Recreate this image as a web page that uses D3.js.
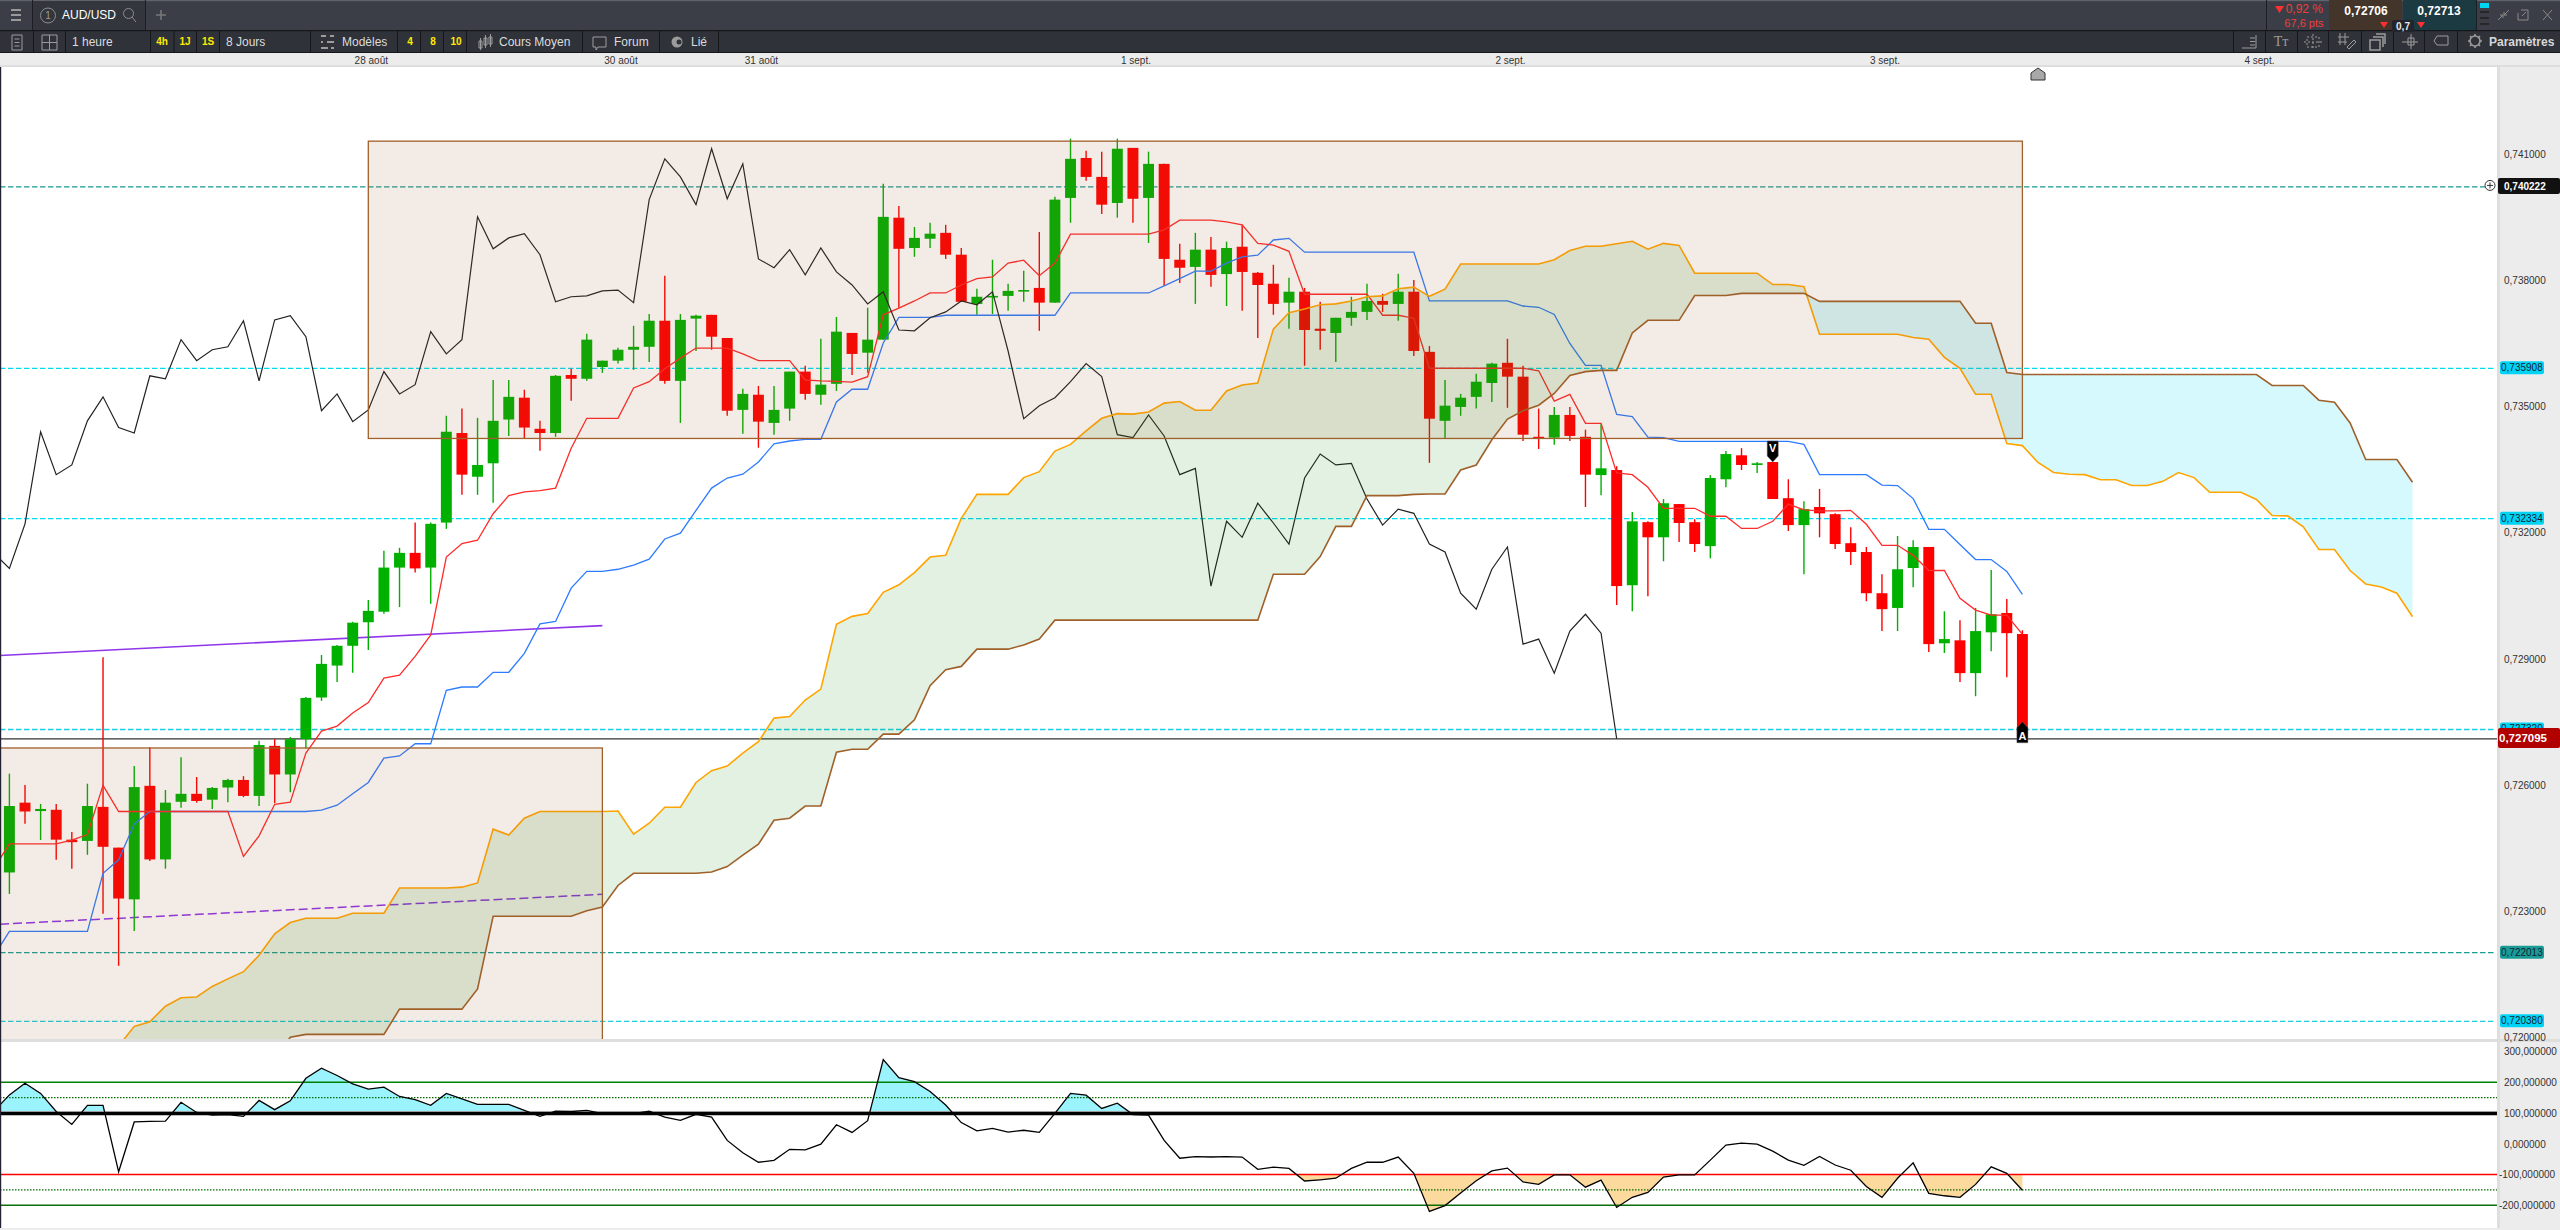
<!DOCTYPE html>
<html>
<head>
<meta charset="utf-8">
<title>AUD/USD</title>
<script src="https://cdnjs.cloudflare.com/ajax/libs/d3/7.8.5/d3.min.js"></script>
<style>
html, body { margin: 0; padding: 0; background: #fff; overflow: hidden; }
svg { display: block; font-family: "Liberation Sans", Arial, sans-serif; }
</style>
</head>
<body>
<svg id="chart" width="2560" height="1230"></svg>
<script>
// prices are in 1e-5 units (73590 = 0,73590)
var opens = [72392,72558,72538,72541,72470,72467,72548,72451,72328,72598,72423,72560,72579,72565,72594,72612,72574,72693,72625,72709,72808,72884,72931,72987,73012,73117,73152,73117,73224,73437,73333,73365,73469,73521,73447,73437,73575,73566,73594,73609,73635,73642,73704,73561,73709,73718,73663,73492,73528,73461,73495,73583,73528,73554,73675,73628,73659,73949,73877,73899,73913,73861,73744,73762,73763,73774,73782,73747,73996,74091,74046,73984,74115,73996,74077,73849,73832,73873,73815,73880,73818,73792,73747,73773,73685,73675,73711,73725,73751,73744,73773,73630,73466,73499,73523,73556,73604,73571,73428,73426,73480,73428,73337,73349,73075,73225,73189,73268,73225,73168,73327,73384,73361,73368,73282,73218,73261,73244,73175,73154,73056,73021,73116,73166,72937,72944,72866,72963,73009,72959];
var highs = [72627,72600,72555,72555,72488,72603,72904,72451,72645,72690,72588,72666,72619,72595,72615,72621,72705,72709,72714,72809,72909,72933,72988,73040,73157,73164,73224,73224,73478,73495,73473,73563,73563,73540,73466,73575,73590,73673,73609,73640,73692,73720,73811,73720,73718,73718,73663,73542,73549,73549,73583,73597,73661,73713,73675,73735,74030,73977,73927,73937,73932,73877,73780,73849,73792,73823,73915,73999,74137,74108,74106,74137,74115,74106,74077,73887,73913,73903,73892,73932,73820,73837,73806,73782,73749,73711,73761,73792,73768,73816,73801,73644,73563,73530,73578,73604,73661,73597,73495,73499,73499,73445,73458,73358,73249,73227,73280,73268,73232,73337,73394,73401,73368,73368,73327,73275,73304,73246,73213,73166,73101,73192,73182,73166,73013,72992,73021,73111,73042,72968];
var lows = [72341,72508,72469,72422,72401,72434,72294,72170,72253,72419,72401,72546,72558,72543,72559,72571,72550,72557,72583,72687,72800,72845,72867,72921,73007,73023,73105,73031,73209,73290,73290,73271,73430,73425,73395,73428,73514,73561,73580,73602,73587,73606,73554,73461,73632,73635,73478,73435,73402,73433,73466,73516,73504,73537,73575,73580,73659,73735,73856,73877,73851,73749,73718,73720,73728,73749,73680,73747,73937,74037,73958,73949,73937,73889,73787,73794,73744,73785,73739,73728,73663,73718,73685,73597,73635,73606,73692,73706,73725,73704,73620,73366,73425,73478,73495,73511,73497,73418,73399,73409,73418,73261,73289,73028,73013,73049,73132,73178,73154,73139,73308,73349,73342,73280,73204,73101,73189,73161,73123,73037,72966,72966,73070,72916,72914,72845,72811,72918,72856,72710];
var closes = [72550,72537,72543,72470,72464,72550,72453,72330,72595,72423,72558,72579,72562,72593,72612,72574,72695,72625,72709,72807,72888,72931,72986,73014,73117,73152,73115,73221,73440,73338,73361,73466,73523,73450,73437,73573,73566,73659,73609,73635,73642,73704,73561,73706,73716,73666,73490,73530,73464,73492,73583,73530,73552,73678,73625,73659,73951,73875,73901,73911,73861,73749,73761,73763,73775,73777,73747,73992,74089,74046,73980,74113,73994,74077,73851,73830,73873,73813,73877,73820,73789,73744,73773,73682,73680,73711,73725,73751,73742,73773,73632,73471,73502,73521,73559,73602,73571,73433,73426,73480,73430,73338,73353,73073,73227,73189,73270,73223,73173,73330,73387,73361,73365,73280,73218,73256,73246,73173,73154,73056,73018,73113,73166,72935,72947,72866,72966,73006,72961,72710];

// ichimoku lines, first value of each sits at the "Start" candle index
var tenkanStart = -1;
var tenkan = [72401,72460,72460,72460,72460,72469,72482,72599,72537,72537,72537,72537,72537,72537,72537,72537,72430,72479,72554,72559,72676,72728,72740,72771,72796,72854,72861,72906,72957,73142,73174,73182,73245,73288,73297,73300,73306,73401,73472,73472,73472,73544,73559,73590,73615,73639,73639,73639,73625,73609,73609,73609,73563,73561,73560,73558,73571,73718,73734,73751,73770,73770,73789,73804,73808,73841,73848,73811,73841,73910,73910,73910,73910,73910,73910,73920,73943,73943,73943,73939,73932,73888,73884,73869,73767,73767,73767,73767,73767,73717,73717,73710,73591,73591,73591,73591,73591,73591,73591,73585,73513,73529,73460,73460,73342,73338,73308,73258,73258,73258,73239,73239,73210,73210,73227,73268,73254,73252,73252,73253,73220,73170,73170,73146,73110,73110,73044,73016,73004,73004,72958];
var kijunStart = -1;
var kijun = [72193,72252,72252,72252,72252,72252,72252,72390,72422,72507,72537,72537,72537,72537,72537,72537,72537,72537,72537,72537,72537,72540,72552,72579,72606,72664,72669,72698,72698,72825,72833,72833,72868,72868,72913,72983,72989,73068,73108,73108,73113,73123,73137,73185,73199,73253,73306,73330,73339,73368,73411,73418,73422,73422,73511,73541,73541,73651,73712,73712,73712,73717,73717,73717,73717,73717,73717,73717,73717,73770,73770,73770,73770,73770,73770,73787,73804,73822,73822,73841,73856,73860,73896,73900,73867,73867,73867,73867,73867,73867,73867,73867,73751,73751,73751,73751,73751,73751,73739,73736,73719,73650,73598,73598,73481,73476,73427,73426,73417,73417,73417,73417,73417,73417,73417,73417,73410,73338,73338,73338,73338,73313,73312,73281,73208,73208,73172,73136,73136,73108,73053];
var chikouStart = -1;
var chikou = [73152,73115,73221,73440,73338,73361,73466,73523,73450,73437,73573,73566,73659,73609,73635,73642,73704,73561,73706,73716,73666,73490,73530,73464,73492,73583,73530,73552,73678,73625,73659,73951,73875,73901,73911,73861,73749,73761,73763,73775,73777,73747,73992,74089,74046,73980,74113,73994,74077,73851,73830,73873,73813,73877,73820,73789,73744,73773,73682,73680,73711,73725,73751,73742,73773,73632,73471,73502,73521,73559,73602,73571,73433,73426,73480,73430,73338,73353,73073,73227,73189,73270,73223,73173,73330,73387,73361,73365,73280,73218,73256,73246,73173,73154,73056,73018,73113,73166,72935,72947,72866,72966,73006,72961,72710];
var spanStart = 7;
var spanA = [71979,72026,72037,72074,72094,72096,72121,72139,72156,72195,72246,72273,72283,72283,72283,72295,72295,72295,72355,72355,72355,72355,72357,72367,72495,72481,72521,72537,72537,72537,72537,72537,72538,72483,72509,72547,72547,72606,72634,72645,72676,72703,72759,72763,72802,72828,72982,73001,73008,73058,73076,73105,73142,73146,73234,73291,73291,73291,73331,73345,73394,73410,73442,73472,73483,73482,73487,73508,73512,73491,73491,73537,73551,73556,73684,73723,73732,73742,73744,73751,73761,73763,73780,73784,73762,73779,73839,73839,73839,73839,73839,73839,73849,73871,73881,73881,73887,73893,73874,73888,73883,73817,73817,73817,73817,73817,73790,73790,73785,73672,73672,73672,73672,73672,73672,73664,73660,73617,73591,73529,73529,73412,73407,73367,73343,73339,73338,73326,73326,73312,73312,73322,73343,73331,73296,73296,73296,73279,73241,73240,73214,73160,73160,73110,73078,73071,73056,73000];
var spanB = [71950,71950,71950,71950,71950,71950,71950,71950,71950,71950,71950,72000,72007,72007,72007,72007,72007,72007,72067,72067,72067,72067,72067,72115,72288,72288,72288,72288,72288,72288,72301,72310,72361,72390,72390,72390,72390,72390,72393,72406,72433,72459,72516,72521,72550,72550,72678,72685,72685,72721,72721,72755,72836,72874,72882,72923,72923,72923,72933,72947,72992,72992,72992,72992,72992,72992,72992,72992,72992,72992,72992,72992,72992,72992,73101,73101,73101,73143,73215,73215,73288,73288,73288,73291,73292,73292,73349,73361,73421,73470,73490,73503,73531,73574,73583,73586,73586,73675,73705,73705,73705,73764,73764,73764,73769,73769,73769,73769,73769,73750,73750,73750,73750,73750,73750,73750,73750,73750,73750,73698,73698,73581,73576,73576,73576,73576,73576,73576,73576,73576,73576,73576,73576,73576,73576,73576,73576,73576,73550,73550,73550,73515,73510,73461,73374,73374,73374,73320];

// indicator pane (first value at candle -1)
var cciStart = -1;
var cci = [105,159,197,164,105,63,125,125,-91,71,73,74,135,102,93,95,89,141,111,140,213,246,222,195,178,184,154,144,125,164,146,128,128,128,109,89,106,105,109,98,98,98,106,87,76,96,87,11,-29,-60,-54,-18,-20,-1,62,37,75,274,215,202,170,126,69,42,50,38,44,37,99,164,158,115,132,95,93,11,-47,-42,-43,-42,-43,-83,-76,-80,-121,-117,-112,-80,-60,-60,-43,-96,-220,-201,-160,-120,-88,-79,-124,-132,-101,-101,-141,-118,-207,-174,-158,-108,-101,-101,-53,-4,2,-1,-24,-53,-70,-41,-69,-86,-139,-174,-112,-62,-161,-169,-174,-132,-75,-96,-151];

var priceTicks = [72000,72300,72600,72900,73200,73500,73800,74100];
var cciTicks = [300,200,100,0,-100,-200];
var levelPrices = [74022.2,73590.8,73233.4,72732,72201.3,72038];
var levelColors = ["#1a9c96","#00dcf5","#00dcf5","#1ccde6","#1a9c96","#1ccde6"];
var lastPrice = 72709.5;
var dateIndex = [23,39,48,72,96,120,144];
var dateLabels = ["28 août","30 août","31 août","1 sept.","2 sept.","3 sept.","4 sept."];
var boxStart = [23,-2], boxEnd = [129,38], boxLow = [73424,71900], boxHigh = [74131,72688];
var trendStart = [-0.6,38], trendLow = [72908,72979], trendLowDash = [72269,72340];

var svg = d3.select("#chart");
var paneRight = 2497;

var x = d3.scaleLinear().domain([0,129]).range([9.4,2022.4]);
var y = d3.scaleLinear().domain([72000,74100]).range([1037.3,154.2]);
var yCci = d3.scaleLinear().domain([-200,200]).range([1205.3,1082.3]);
var fmtPrice = function(v) { return (v/100000).toFixed(6).replace(".",","); };
var fmtCci = function(v) { return v.toFixed(6).replace(".",","); };

var defs = svg.append("defs");
defs.append("clipPath").attr("id","pricePane").append("rect").attr("x",0).attr("y",67).attr("width",paneRight).attr("height",972);
defs.append("clipPath").attr("id","cciPane").append("rect").attr("x",0).attr("y",1042).attr("width",paneRight).attr("height",186);
defs.append("clipPath").attr("id","cciAbove").append("rect").attr("x",0).attr("y",1042).attr("width",paneRight).attr("height",yCci(98)-1042);
defs.append("clipPath").attr("id","cciBelow").append("rect").attr("x",0).attr("y",yCci(-100)).attr("width",paneRight).attr("height",1228-yCci(-100));

function series(values, start) {
    return values.map(function(v, i) { return {i: i + start, v: v}; });
}
var priceLine = d3.line().x(function(d) { return x(d.i); }).y(function(d) { return y(d.v); });

// ---- price pane
var price = svg.append("g").attr("clip-path","url(#pricePane)");

price.selectAll("line.level").data(levelPrices).enter().append("line")
    .attr("class","level")
    .attr("x1",0).attr("x2",2494)
    .attr("y1",function(d) { return y(d); }).attr("y2",function(d) { return y(d); })
    .attr("stroke",function(d,i) { return levelColors[i]; })
    .attr("stroke-width",1.3)
    .attr("stroke-dasharray","5.5,2.5");

price.append("line").attr("x1",0).attr("x2",paneRight)
    .attr("y1",y(lastPrice)).attr("y2",y(lastPrice))
    .attr("stroke","#333").attr("stroke-width",1.3);

// trend lines
price.append("line").attr("x1",x(trendStart[0])).attr("x2",x(trendStart[1]))
    .attr("y1",y(trendLow[0])).attr("y2",y(trendLow[1]))
    .attr("stroke","#8f35ea").attr("stroke-width",1.6);
price.append("line").attr("x1",x(trendStart[0])).attr("x2",x(trendStart[1]))
    .attr("y1",y(trendLowDash[0])).attr("y2",y(trendLowDash[1]))
    .attr("stroke","#8f35ea").attr("stroke-width",1.5).attr("stroke-dasharray","9,4");

// candles
var candleW = (x(1)-x(0))*0.7;
var candle = price.selectAll("g.candle").data(opens).enter().append("g").attr("class","candle");
function candleColor(d,i) { return closes[i] >= d ? "#00b000" : "#ff0000"; }
candle.append("line")
    .attr("x1",function(d,i) { return x(i); }).attr("x2",function(d,i) { return x(i); })
    .attr("y1",function(d,i) { return y(highs[i]); }).attr("y2",function(d,i) { return y(lows[i]); })
    .attr("stroke",candleColor).attr("stroke-width",1.4);
candle.append("rect")
    .attr("x",function(d,i) { return x(i)-candleW/2; })
    .attr("width",candleW)
    .attr("y",function(d,i) { return y(Math.max(d,closes[i])); })
    .attr("height",function(d,i) { return Math.max(1.6,Math.abs(y(d)-y(closes[i]))); })
    .attr("fill",candleColor);

price.append("path").datum(series(kijun,kijunStart)).attr("d",priceLine)
    .attr("fill","none").attr("stroke","#2e7bff").attr("stroke-width",1.3);
price.append("path").datum(series(tenkan,tenkanStart)).attr("d",priceLine)
    .attr("fill","none").attr("stroke","#ff2a2a").attr("stroke-width",1.3);
price.append("path").datum(series(chikou,chikouStart)).attr("d",priceLine)
    .attr("fill","none").attr("stroke","#222").attr("stroke-width",1.2);

// cloud, split where the two spans cross
var cloudArea = d3.area().x(function(d) { return x(d.i); })
    .y0(function(d) { return y(d.b); }).y1(function(d) { return y(d.a); });
var cloudUp = [], cloudDown = [];
spanA.forEach(function(a, k) {
    var b = spanB[k], i = k + spanStart;
    if (a >= b) cloudUp.push({i:i,a:a,b:b}); else cloudDown.push({i:i,a:a,b:b});
    if (k < spanA.length-1 && (a-b)*(spanA[k+1]-spanB[k+1]) < 0) {
        var t = (a-b)/((a-b)-(spanA[k+1]-spanB[k+1]));
        var cross = {i:i+t, a:a+t*(spanA[k+1]-a), b:b+t*(spanB[k+1]-b)};
        cloudUp.push(cross); cloudDown.push(cross);
    }
});
price.append("path").datum(cloudUp).attr("d",cloudArea).attr("fill","rgba(0,128,0,0.114)");
price.append("path").datum(cloudDown).attr("d",cloudArea).attr("fill","rgba(0,218,242,0.165)");
price.append("path").datum(series(spanA,spanStart)).attr("d",priceLine)
    .attr("fill","none").attr("stroke","#ffa500").attr("stroke-width",1.6);
price.append("path").datum(series(spanB,spanStart)).attr("d",priceLine)
    .attr("fill","none").attr("stroke","#a0602a").attr("stroke-width",1.6);

// zones
price.selectAll("rect.zone").data(boxStart).enter().append("rect")
    .attr("class","zone")
    .attr("x",function(d) { return x(d); })
    .attr("width",function(d,i) { return x(boxEnd[i])-x(d); })
    .attr("y",function(d,i) { return y(boxHigh[i]); })
    .attr("height",function(d,i) { return y(boxLow[i])-y(boxHigh[i]); })
    .attr("fill","rgba(156,90,40,0.12)")
    .attr("stroke","#a0602a").attr("stroke-width",1.3);

// sell / buy flags
var sellX = x(113), sellY = y(highs[113]);
price.append("path")
    .attr("d","M"+(sellX-5.5)+","+(sellY-21)+"h11v15l-5.5,6l-5.5,-6z")
    .attr("fill","#000").attr("stroke","#666").attr("stroke-width",0.5);
price.append("text").attr("x",sellX).attr("y",sellY-10).attr("text-anchor","middle")
    .attr("font-size",11).attr("font-weight","bold").attr("fill","#fff").text("V");
var buyX = x(129), buyY = y(lows[129]);
price.append("path")
    .attr("d","M"+(buyX-5.5)+","+(buyY+4)+"v-15l5.5,-6l5.5,6v15z")
    .attr("fill","#000").attr("stroke","#666").attr("stroke-width",0.5);
price.append("text").attr("x",buyX).attr("y",buyY+1).attr("text-anchor","middle")
    .attr("font-size",11).attr("font-weight","bold").attr("fill","#fff").text("A");

// little house marker on top of the pane
price.append("path")
    .attr("d","M"+(x(130)-7)+",80v-7l7,-5l7,5v7z")
    .attr("fill","#a8a8a8").attr("stroke","#333").attr("stroke-width",1);

// ---- indicator pane
var cciPane = svg.append("g").attr("clip-path","url(#cciPane)");
var cciData = series(cci,cciStart);
var cciLine = d3.line().x(function(d) { return x(d.i); }).y(function(d) { return yCci(d.v); });
cciPane.append("path").datum(cciData)
    .attr("clip-path","url(#cciAbove)")
    .attr("d",d3.area().x(function(d) { return x(d.i); }).y0(yCci(98)).y1(function(d) { return yCci(d.v); }))
    .attr("fill","#9bf3fe");
cciPane.append("path").datum(cciData)
    .attr("clip-path","url(#cciBelow)")
    .attr("d",d3.area().x(function(d) { return x(d.i); }).y0(yCci(-100)).y1(function(d) { return yCci(d.v); }))
    .attr("fill","#fcd99c");

var cciLevels = [
    {v:200, c:"#008000", w:1.5, dash:null},
    {v:150, c:"#006a00", w:1.3, dash:"1.5,1.5"},
    {v:98, c:"#000", w:3.2, dash:null},
    {v:-100, c:"#ff0000", w:1.5, dash:null},
    {v:-150, c:"#006a00", w:1.3, dash:"1.5,1.5"},
    {v:-200, c:"#0a6e0a", w:1.5, dash:null}
];
cciPane.selectAll("line.cciLevel").data(cciLevels).enter().append("line")
    .attr("class","cciLevel")
    .attr("x1",0).attr("x2",paneRight)
    .attr("y1",function(d) { return yCci(d.v); }).attr("y2",function(d) { return yCci(d.v); })
    .attr("stroke",function(d) { return d.c; })
    .attr("stroke-width",function(d) { return d.w; })
    .attr("stroke-dasharray",function(d) { return d.dash; });
cciPane.append("line").attr("x1",0).attr("x2",paneRight)
    .attr("y1",yCci(98)-2.2).attr("y2",yCci(98)-2.2).attr("stroke","#999").attr("stroke-width",1);
cciPane.append("path").datum(cciData).attr("d",cciLine)
    .attr("fill","none").attr("stroke","#000").attr("stroke-width",1.3);

// ---- pane frames
svg.append("rect").attr("x",0).attr("y",1039).attr("width",2560).attr("height",3).attr("fill","#dedede");
svg.append("rect").attr("x",0).attr("y",1228).attr("width",2560).attr("height",2).attr("fill","#ececec");
svg.append("rect").attr("x",0).attr("y",66).attr("width",1.2).attr("height",1162).attr("fill","#223");
svg.append("rect").attr("x",paneRight).attr("y",66).attr("width",63).attr("height",973).attr("fill","#ececec");
svg.append("rect").attr("x",paneRight).attr("y",1042).attr("width",63).attr("height",186).attr("fill","#ececec");
svg.append("rect").attr("x",paneRight).attr("y",66).attr("width",3).attr("height",1162).attr("fill","#dedede");

// ---- axes
function styleAxis(g) {
    g.select(".domain").remove();
    g.selectAll(".tick line").remove();
    g.selectAll("text").attr("fill","#333").attr("font-family","\"Liberation Sans\", Arial, sans-serif").attr("font-size",10);
}
svg.append("g").attr("transform","translate(2504,0)")
    .call(d3.axisRight(y).tickValues(priceTicks).tickFormat(fmtPrice).tickSize(0).tickPadding(0))
    .call(styleAxis);
var cciAxis = svg.append("g").attr("transform","translate(2504,0)")
    .call(d3.axisRight(yCci).tickValues(cciTicks).tickFormat(fmtCci).tickSize(0).tickPadding(0))
    .call(styleAxis);
cciAxis.selectAll("text").attr("x",function(d) { return d < 0 ? -5 : 0; });

// level boxes on the price axis
var levelTag = svg.append("g").selectAll("g").data(levelPrices).enter().append("g")
    .attr("transform",function(d) { return "translate(2500,"+y(d)+")"; });
levelTag.append("rect")
    .attr("x",function(d,i) { return i == 0 ? -2 : 0; })
    .attr("y",function(d,i) { return i == 0 ? -9 : -7; })
    .attr("width",function(d,i) { return i == 0 ? 62 : 44; })
    .attr("height",function(d,i) { return i == 0 ? 16 : 13; })
    .attr("rx",2)
    .attr("fill",function(d,i) { return i == 0 ? "#111" : (levelColors[i] == "#1a9c96" ? "#1a9c96" : "#00d4f5"); });
levelTag.append("text")
    .attr("x",function(d,i) { return i == 0 ? 4 : 1; })
    .attr("y",3)
    .attr("font-size",10)
    .attr("font-weight",function(d,i) { return i == 0 ? "bold" : "normal"; })
    .attr("fill",function(d,i) { return i == 0 ? "#fff" : "#123"; })
    .text(fmtPrice);
svg.append("circle").attr("cx",2490).attr("cy",y(levelPrices[0])-1.5).attr("r",5)
    .attr("fill","#fff").attr("stroke","#333").attr("stroke-width",1);
svg.append("path").attr("d","M2487,"+(y(levelPrices[0])-1.5)+"h6M2490,"+(y(levelPrices[0])-4.5)+"v6").attr("stroke","#333");

// last price box
svg.append("rect").attr("x",2498).attr("y",y(lastPrice)-11).attr("width",62).attr("height",20).attr("rx",2).attr("fill","#b00000");
svg.append("text").attr("x",2499).attr("y",y(lastPrice)+3).attr("font-size",11.5).attr("font-weight","bold").attr("fill","#fff").text(fmtPrice(lastPrice));

// ---- top chrome
var chrome = svg.append("g");
chrome.append("rect").attr("width",2560).attr("height",30).attr("fill","#3b3e46");
chrome.append("rect").attr("width",2560).attr("height",1.2).attr("fill","#60636a");
chrome.append("rect").attr("y",30).attr("width",2560).attr("height",23).attr("fill","#2f3239");
chrome.append("rect").attr("y",30).attr("width",2560).attr("height",1.2).attr("fill","#15171a");
chrome.append("rect").attr("y",52).attr("width",2560).attr("height",1.2).attr("fill","#15171a");
chrome.append("rect").attr("y",53).attr("width",2560).attr("height",13).attr("fill","#ececec");
chrome.append("rect").attr("y",65).attr("width",2560).attr("height",2).attr("fill","#dedede");

// date strip
var xDates = d3.scaleOrdinal().domain(dateIndex).range(dateIndex.map(function(d) { return x(d)+2.5; }));
svg.append("g").attr("transform","translate(0,64)")
    .call(d3.axisTop(xDates).tickValues(dateIndex)
        .tickFormat(function(d,i) { return dateLabels[i]; }).tickSize(0).tickPadding(0))
    .call(styleAxis);

// tabs
chrome.append("rect").attr("x",32).attr("y",1).attr("width",113).attr("height",29).attr("fill","#33363d");
[[32],[145],[2266],[2476]].forEach(function(d) {
    chrome.append("rect").attr("x",d[0]).attr("y",0).attr("width",1).attr("height",30).attr("fill","#1c1e22");
});
chrome.append("path").attr("d","M11,10h10M11,15h10M11,20h10").attr("stroke","#9a9a9a").attr("stroke-width",2.2);
chrome.append("circle").attr("cx",48).attr("cy",15.5).attr("r",7.5).attr("fill","none").attr("stroke","#8e8e8e");
chrome.append("text").attr("x",48).attr("y",19).attr("text-anchor","middle").attr("font-size",10).attr("fill","#9a9a9a").text("1");
chrome.append("text").attr("x",62).attr("y",19).attr("font-size",12).attr("fill","#fff").text("AUD/USD");
chrome.append("circle").attr("cx",128.5).attr("cy",13.5).attr("r",5).attr("fill","none").attr("stroke","#8e8e8e");
chrome.append("path").attr("d","M132,17l4,5").attr("stroke","#8e8e8e").attr("fill","none");
chrome.append("path").attr("d","M156,15h10M161,10v10").attr("stroke","#777").attr("stroke-width",1.6);

// toolbar separators and labels
var toolbarStops = [33,65,150,173.5,196,219,310,397,420,443,466,582,659,718,2233,2265,2297,2328,2361,2393,2424,2457];
chrome.selectAll("rect.stop").data(toolbarStops).enter().append("rect")
    .attr("class","stop").attr("x",function(d) { return d; }).attr("y",31).attr("width",1).attr("height",21).attr("fill","#15171a");
var toolbarLabels = [[72,"1 heure"],[226,"8 Jours"],[342,"Modèles"],[499,"Cours Moyen"],[614,"Forum"],[691,"Lié"]];
chrome.selectAll("text.tb").data(toolbarLabels).enter().append("text")
    .attr("class","tb").attr("x",function(d) { return d[0]; }).attr("y",45.5)
    .attr("font-size",12).attr("fill","#dcdcdc").text(function(d) { return d[1]; });
var toolbarYellow = [[162,"4h"],[185,"1J"],[208,"1S"],[410,"4"],[433,"8"],[456,"10"]];
chrome.selectAll("text.ty").data(toolbarYellow).enter().append("text")
    .attr("class","ty").attr("x",function(d) { return d[0]; }).attr("y",45)
    .attr("text-anchor","middle").attr("font-size",10).attr("font-weight","bold").attr("fill","#ffec00").text(function(d) { return d[1]; });
chrome.append("text").attr("x",2489).attr("y",45.5).attr("font-size",12).attr("font-weight","bold").attr("fill","#d8d8d8").text("Paramètres");

// toolbar icons, rough shapes
var icon = chrome.append("g").attr("fill","none").attr("stroke","#9c9c9c").attr("stroke-width",1);
icon.append("path").attr("d","M12,35h10v15h-10zM14.5,39h5M14.5,42.5h5M14.5,46h5");
icon.append("path").attr("d","M42,35h15v15h-15zM42,42.5h15M49.5,35v15");
icon.append("path").attr("d","M321,36h5M330,36h4M321,42h2M327,42h7M321,48h7M331,48h3").attr("stroke-width",2);
icon.append("path").attr("d","M479,41h3v7h-3zM484,38h3v7h-3zM489,37h3v7h-3zM480.5,38v12M485.5,35v13M490.5,34v13");
icon.append("path").attr("d","M593,37h13v10h-8l-2,3v-3h-3z");
chrome.append("circle").attr("cx",677).attr("cy",42).attr("r",5.5).attr("fill","#9c9c9c");
chrome.append("circle").attr("cx",679).attr("cy",42).attr("r",2.5).attr("fill","#2f3239");
icon.append("path").attr("d","M2242,48h14v-13M2250,38h5M2250,41.5h5M2250,45h5");
chrome.append("text").attr("x",2281).attr("y",46).attr("text-anchor","middle").attr("font-family","\"Liberation Serif\", serif").attr("font-size",14).attr("fill","#9c9c9c").text("Tт");
icon.append("path").attr("d","M2307,37h12v10h-12zM2313,34v16M2304,42h18").attr("stroke-dasharray","2,2");
icon.append("path").attr("d","M2340,33v12M2345,33v12M2338,37h11M2338,42h9M2347,47l7,-7l2,2l-7,7z");
icon.append("path").attr("d","M2370,40h10v10h-10zM2373,37h10v10M2376,34h9v10").attr("stroke-width",1.5);
icon.append("path").attr("d","M2402,42h16M2408,38h6v7h-6zM2411,34v15");
icon.append("path").attr("d","M2448,36h-11l-3,5l3,4h11z");
chrome.append("circle").attr("cx",2475).attr("cy",41).attr("r",5).attr("fill","none").attr("stroke","#9c9c9c").attr("stroke-width",1.6);
icon.append("path").attr("d","M2475,34v2M2475,46v2M2468,41h2M2480,41h2M2470,36l1.5,1.5M2478.5,44.5l1.5,1.5M2470,46l1.5,-1.5M2478.5,37.5l1.5,-1.5").attr("stroke-width",1.6);

// quote boxes
chrome.append("rect").attr("x",2329).attr("y",0).attr("width",73).attr("height",30).attr("fill","#44352a");
chrome.append("rect").attr("x",2403).attr("y",0).attr("width",73).attr("height",30).attr("fill","#1b3a42");
chrome.append("path").attr("d","M2275,6h9l-4.5,7zM2380,22h8l-4,6zM2417,22h8l-4,6z").attr("fill","#ff3030");
chrome.append("text").attr("x",2323).attr("y",13).attr("text-anchor","end").attr("font-size",12).attr("fill","#f23c3c").text("0,92 %");
chrome.append("text").attr("x",2323.5).attr("y",27).attr("text-anchor","end").attr("font-size",11).attr("fill","#f23c3c").text("67,6 pts");
chrome.append("text").attr("x",2366).attr("y",15).attr("text-anchor","middle").attr("font-size",12).attr("font-weight","bold").attr("fill","#fff").text("0,72706");
chrome.append("text").attr("x",2439).attr("y",15).attr("text-anchor","middle").attr("font-size",12).attr("font-weight","bold").attr("fill","#fff").text("0,72713");
chrome.append("rect").attr("x",2392).attr("y",20).attr("width",22).attr("height",12).attr("rx",2).attr("fill","#22262c");
chrome.append("text").attr("x",2403).attr("y",30).attr("text-anchor","middle").attr("font-size",10).attr("font-weight","bold").attr("fill","#e8e8e8").text("0,7");
chrome.append("rect").attr("x",2480).attr("y",3).attr("width",9).attr("height",5).attr("fill","#00d4f5");
chrome.append("path").attr("d","M2480,12h9M2480,18h9M2480,24h9").attr("stroke","#111");
chrome.append("path").attr("d","M2498,20l5,-5M2503,15h-3M2503,15v3M2509,10l-5,5M2504,15h3M2504,15v-3M2521,10h7v10h-10v-7M2526,12l-4,4M2543,10l9,10M2552,10l-9,10")
    .attr("stroke","#8a8a8a").attr("fill","none");
</script>
</body>
</html>
